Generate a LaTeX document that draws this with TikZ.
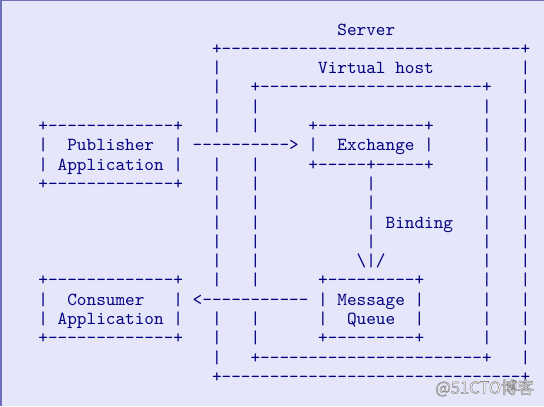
\documentclass[tikz,border=0pt]{standalone}
\usepackage{fontspec}
\newfontfamily\asciifont{lmmono10-regular.otf}
\newfontfamily\cjkfont{Noto Sans CJK SC}
\definecolor{navy}{RGB}{0,0,128}
\definecolor{paper}{RGB}{230,230,250}
\definecolor{frame}{RGB}{112,112,184}

\begin{document}
\begin{tikzpicture}[%
      x=9.645pt, y=-19.3pt,
      asc/.style={anchor=base west, inner sep=0pt, text=navy,
        font=\asciifont\fontsize{18.37pt}{19.3pt}\selectfont},
      wm/.style={inner sep=0pt, font=\cjkfont\fontsize{16.5pt}{18pt}\selectfont},
      ]
      \useasboundingbox (0.04,-1.8135) rectangle (56.44,19.223);
      \fill [color=paper] (0.04,-1.8135) rectangle (56.44,19.223);
      \fill [color=frame] (0.04,-1.8135) rectangle (0.25,19.223);
      \fill [color=frame] (0.04,-1.8135) rectangle (56.44,-1.74);

      % server and virtual host frames
      \node [asc] (server) at (35,0) {Server};
      \node [asc] (servertop) at (22,1) {+-------------------------------+};
      \node [asc] (serverbot) at (22,18) {+-------------------------------+};
      \node [asc] (vhost) at (33,2) {Virtual host};
      \node [asc] (vhosttop) at (26,3) {+-----------------------+};
      \node [asc] (vhostbot) at (26,17) {+-----------------------+};
      \foreach \r in {2,3,4,5,7,8,9,10,11,12,13,15,16,17}
        \node [asc] (srvl\r) at (22,\r) {|};
      \foreach \r in {2,...,17}
        \node [asc] (srvr\r) at (54,\r) {|};
      \foreach \r in {4,5,7,8,9,10,11,12,13,15,16}
        \node [asc] (vhl\r) at (26,\r) {|};
      \foreach \r in {4,...,16}
        \node [asc] (vhr\r) at (50,\r) {|};

      % publisher
      \node [asc] (pubtop) at (4,5) {+-------------+};
      \node [asc] (publ1) at (4,6) {|};
      \node [asc] (pub1) at (7,6) {Publisher};
      \node [asc] (pubr1) at (18,6) {|};
      \node [asc] (publ2) at (4,7) {|};
      \node [asc] (pub2) at (6,7) {Application};
      \node [asc] (pubr2) at (18,7) {|};
      \node [asc] (pubbot) at (4,8) {+-------------+};
      \node [asc] (publish) at (20,6) {---------->};

      % exchange
      \node [asc] (exctop) at (32,5) {+-----------+};
      \node [asc] (excl) at (32,6) {|};
      \node [asc] (exc) at (35,6) {Exchange};
      \node [asc] (excr) at (44,6) {|};
      \node [asc] (excbot) at (32,7) {+-----+-----+};
      \foreach \r in {8,...,11}
        \node [asc] (bind\r) at (38,\r) {|};
      \node [asc] (binding) at (40,10) {Binding};
      \node [asc] (bindtip) at (37,12) {\textbackslash|/};

      % message queue
      \node [asc] (mqtop) at (33,13) {+---------+};
      \node [asc] (mql1) at (33,14) {|};
      \node [asc] (mq1) at (35,14) {Message};
      \node [asc] (mqr1) at (43,14) {|};
      \node [asc] (mql2) at (33,15) {|};
      \node [asc] (mq2) at (36,15) {Queue};
      \node [asc] (mqr2) at (43,15) {|};
      \node [asc] (mqbot) at (33,16) {+---------+};

      % consumer
      \node [asc] (contop) at (4,13) {+-------------+};
      \node [asc] (conl1) at (4,14) {|};
      \node [asc] (con1) at (7,14) {Consumer};
      \node [asc] (conr1) at (18,14) {|};
      \node [asc] (conl2) at (4,15) {|};
      \node [asc] (con2) at (6,15) {Application};
      \node [asc] (conr2) at (18,15) {|};
      \node [asc] (conbot) at (4,16) {+-------------+};
      \node [asc] (consume) at (20,14) {<-----------};

      \node [wm, text=white] (wmark) at (50.29,18.29)
        {\special{pdf:code 2 Tr 0.55 w 0.55 G}@51CTO博客\special{pdf:code 0 Tr}};
      \end{tikzpicture}
\end{document}
